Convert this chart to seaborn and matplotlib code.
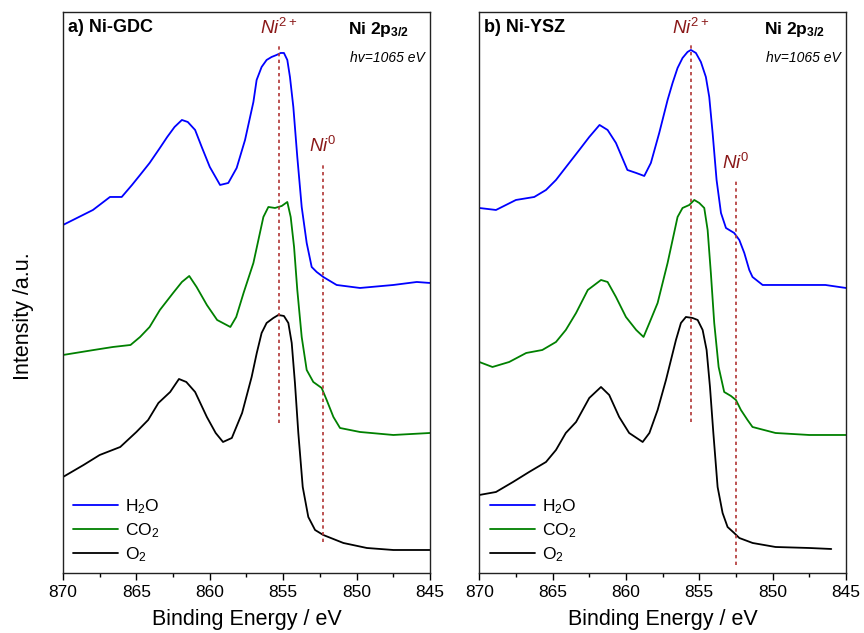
import numpy as np
import pandas as pd
import matplotlib
matplotlib.use("Agg")
import matplotlib.pyplot as plt
import seaborn as sns
from matplotlib.ticker import MultipleLocator

# ---------------- data (binding energy in eV, intensity in a.u., offset stacked) -------------
gdc_h2o_e = [870, 867.96, 866.8, 866.0, 865.3, 864.75, 864.1, 863.4, 862.9, 862.4, 861.9, 861.5,
             861.0, 860.55, 860.0, 859.3, 858.74, 858.17, 857.6, 857.03, 856.81, 856.47, 856.13,
             855.79, 855.45, 855.17, 854.95, 854.72, 854.54, 854.31, 854.04, 853.74, 853.4,
             853.06, 852.72, 852.27, 851.36, 849.77, 847.5, 845.9, 845]
gdc_h2o_i = [348, 363, 376, 376, 388, 398, 410, 425, 436, 446, 453, 451, 443, 426, 406, 388, 390,
             405, 433, 471, 493, 506, 513, 516, 518, 520, 520, 513, 496, 466, 416, 366, 330, 306,
             301, 296, 288, 285, 288, 291, 290]

gdc_co2_e = [870, 867.9, 866.6, 865.4, 864.75, 864.1, 863.4, 862.5, 861.9, 861.4, 860.9, 860.2,
             859.5, 858.6, 858.2, 857.7, 857.03, 856.69, 856.35, 856.01, 855.56, 855.1, 854.72,
             854.49, 854.26, 854.04, 853.74, 853.4, 852.95, 852.38, 852.04, 851.58, 851.13,
             849.77, 847.5, 845]
gdc_co2_i = [218, 223, 226, 228, 236, 246, 263, 280, 291, 297, 286, 268, 253, 246, 256, 280, 310,
             333, 356, 366, 365, 367, 371, 356, 326, 283, 236, 203, 191, 185, 173, 156, 145, 141,
             138, 140]

gdc_o2_e = [870, 868.6, 867.5, 866.1, 865.0, 864.2, 863.5, 862.7, 862.1, 861.6, 861.0, 860.2,
            859.6, 859.1, 858.5, 857.8, 857.15, 856.8, 856.47, 856.13, 855.67, 855.33, 854.95,
            854.65, 854.42, 854.2, 853.97, 853.67, 853.29, 852.83, 852.27, 850.9, 849.3, 847.5,
            845]
gdc_o2_i = [96, 108, 118, 126, 141, 153, 170, 181, 194, 191, 181, 156, 140, 131, 135, 160, 196,
            220, 240, 250, 255, 258, 257, 250, 230, 190, 140, 86, 56, 43, 38, 30, 25, 23, 23]

ysz_h2o_e = [870, 868.86, 867.5, 866.25, 865.45, 864.77, 863.87, 863.18, 862.5, 861.8, 861.25,
             860.68, 859.9, 859.3, 858.75, 858.3, 857.73, 857.16, 856.82, 856.48, 856.14, 855.8,
             855.57, 855.23, 854.89, 854.55, 854.32, 854.09, 853.82, 853.52, 853.18, 852.62,
             852.27, 851.93, 851.59, 851.37, 850.68, 848.6, 846.4, 845]
ysz_h2o_i = [365, 363, 373, 376, 383, 393, 410, 423, 436, 448, 443, 430, 403, 400, 397, 410, 440,
             473, 490, 505, 515, 521, 523, 520, 511, 496, 476, 440, 393, 360, 345, 340, 333, 320,
             303, 296, 288, 288, 288, 285]

ysz_co2_e = [870, 869.1, 867.96, 866.8, 865.7, 864.77, 864.1, 863.4, 862.6, 861.7, 861.25, 860.68,
             860.0, 859.3, 858.8, 858.4, 857.84, 857.16, 856.82, 856.48, 856.14, 855.68, 855.34,
             855.0, 854.66, 854.43, 854.21, 853.98, 853.68, 853.3, 852.84, 852.5, 852.16,
             851.71, 851.37, 849.8, 847.5, 845]
ysz_co2_i = [211, 206, 211, 220, 223, 231, 243, 260, 283, 293, 291, 276, 256, 243, 236, 250, 270,
             310, 333, 356, 365, 368, 373, 370, 365, 343, 300, 250, 206, 181, 177, 173, 163, 153,
             146, 140, 138, 138]

ysz_o2_e = [870, 868.86, 867.7, 866.6, 865.45, 864.77, 864.1, 863.4, 862.5, 861.7, 861.14, 860.46,
            859.78, 858.86, 858.4, 857.84, 857.27, 856.93, 856.59, 856.25, 855.91, 855.46, 855.11,
            854.77, 854.5, 854.27, 854.04, 853.75, 853.41, 853.07, 852.62, 852.27, 851.36, 849.8,
            847.5, 846]
ysz_o2_i = [78, 81, 91, 101, 111, 123, 140, 151, 175, 186, 178, 156, 140, 131, 140, 163, 193, 213,
            233, 250, 256, 255, 253, 243, 223, 186, 140, 86, 60, 46, 40, 35, 30, 26, 25, 24]

series_names = ["H$_2$O", "CO$_2$", "O$_2$"]
series_colors = ["#0000ff", "#008000", "#000000"]
panel_titles = ["a) Ni-GDC", "b) Ni-YSZ"]
x_ticks = [870, 865, 860, 855, 850, 845]

# reference lines: (energy, y_top, y_bottom)
gdc_ni2_line = (855.3, 530, 150)
gdc_ni0_line = (852.27, 410, 31)
ysz_ni2_line = (855.57, 530, 151)
ysz_ni0_line = (852.5, 393, 8)

# ---------------- style ----------------
sns.set_style("ticks")
plt.rcParams["font.family"] = ["Liberation Sans", "DejaVu Sans"]
plt.rcParams["mathtext.fontset"] = "custom"
plt.rcParams["mathtext.rm"] = "Liberation Sans"
plt.rcParams["mathtext.it"] = "Liberation Sans:italic"
plt.rcParams["mathtext.bf"] = "Liberation Sans:bold"
plt.rcParams["text.color"] = "black"
plt.rcParams["axes.labelcolor"] = "black"
plt.rcParams["xtick.color"] = "black"
plt.rcParams["ytick.color"] = "black"


def make_df(pairs):
    frames = []
    for name, (e, i) in zip(series_names, pairs):
        frames.append(pd.DataFrame({"E": e, "I": i, "gas": name}))
    return pd.concat(frames, ignore_index=True)


df_gdc = make_df([(gdc_h2o_e, gdc_h2o_i), (gdc_co2_e, gdc_co2_i), (gdc_o2_e, gdc_o2_i)])
df_ysz = make_df([(ysz_h2o_e, ysz_h2o_i), (ysz_co2_e, ysz_co2_i), (ysz_o2_e, ysz_o2_i)])

fig = plt.figure(figsize=(8.64, 6.33), dpi=100)
ax1 = fig.add_axes([0.0729, 0.0948, 0.4248, 0.8863])
ax2 = fig.add_axes([0.5547, 0.0948, 0.4244, 0.8863])

dash_red = "#b03535"
label_red = "#8b1a1a"
palette = dict(zip(series_names, series_colors))

panels = [
    (ax1, df_gdc, panel_titles[0], gdc_ni2_line, gdc_ni0_line),
    (ax2, df_ysz, panel_titles[1], ysz_ni2_line, ysz_ni0_line),
]

for ax, df, title, l2, l0 in panels:
    sns.lineplot(data=df, x="E", y="I", hue="gas", palette=palette, sort=False,
                 estimator=None, linewidth=1.3, ax=ax)
    ax.set_xlim(870, 845)
    ax.set_ylim(0, 561)
    ax.set_yticks([])
    ax.set_xticks(x_ticks)
    ax.xaxis.set_minor_locator(MultipleLocator(2.5))
    ax.tick_params(axis="x", which="major", direction="out", length=5, width=1,
                   labelsize=12.5, pad=4)
    ax.tick_params(axis="x", which="minor", direction="out", length=3, width=1)
    for s in ax.spines.values():
        s.set_visible(True)
        s.set_linewidth(1.0)
        s.set_color("#222222")
    ax.set_xlabel("Binding Energy / eV", fontsize=15.5, labelpad=6)
    ax.set_ylabel("")
    # dashed reference lines
    for e, ytop, ybot in (l2, l0):
        ax.plot([e, e], [ybot, ytop], linestyle=(0, (2.0, 2.0)), color=dash_red, linewidth=1.2)
    ax.text(l2[0], 545, r"$Ni^{2+}$", color=label_red, fontsize=13.5, ha="center", va="center")
    ax.text(l0[0], l0[1] + 17, r"$Ni^{0}$", color=label_red, fontsize=13.5, ha="center",
            va="center")
    ax.text(0.013, 0.973, title, transform=ax.transAxes, fontsize=13, fontweight="bold",
            ha="left", va="center")
    ax.text(0.776, 0.968, r"$\mathbf{Ni\ 2p_{3/2}}$", transform=ax.transAxes, fontsize=12.5,
            ha="left", va="center")
    ax.text(0.987, 0.918, "hv=1065 eV", transform=ax.transAxes, fontsize=10, style="italic",
            ha="right", va="center")
    ax.legend(loc="lower left", bbox_to_anchor=(-0.005, -0.005), frameon=False,
              fontsize=12.5, handlelength=2.6, handletextpad=0.4, labelspacing=0.3,
              borderaxespad=0.3)

fig.text(0.027, 0.5, "Intensity /a.u.", rotation=90, fontsize=15.5, ha="center", va="center")

fig.savefig("out.png", dpi=100)
